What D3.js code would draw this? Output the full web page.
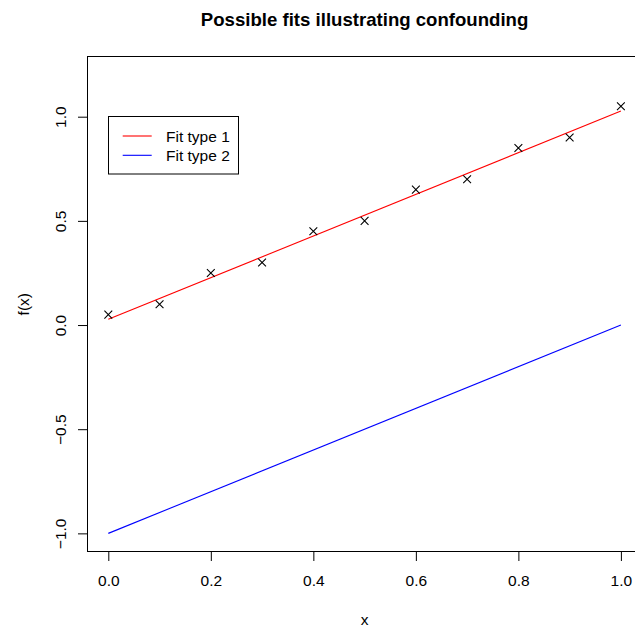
<!DOCTYPE html>
<html>
<head>
<meta charset="utf-8">
<script src="https://cdn.jsdelivr.net/npm/d3@7"></script>
<style>
  html, body { margin: 0; padding: 0; background: #fff; }
  svg { display: block; }
  text { font-family: "Liberation Sans", Arial, Helvetica, sans-serif; }
</style>
</head>
<body>
<script>
// ---- data ----
const title = "Possible fits illustrating confounding";
const xLabel = "x";
const yLabel = "f(x)";
const pointX = [0.0, 0.1, 0.2, 0.3, 0.4, 0.5, 0.6, 0.7, 0.8, 0.9, 1.0];
const pointY = [0.05, 0.10, 0.25, 0.30, 0.45, 0.50, 0.65, 0.70, 0.85, 0.90, 1.05];
const fitX = [0.0, 1.0];
const fit1Y = [0.0273, 1.0273];
const fit2Y = [-1.0, 0.0];
const seriesNames = ["Fit type 1", "Fit type 2"];
const seriesColors = ["#FF0000", "#0000FF"];
const xTicks = [0.0, 0.2, 0.4, 0.6, 0.8, 1.0];
const yTicks = [-1.0, -0.5, 0.0, 0.5, 1.0];
const xLim = [0, 1];
const yLim = [-1, 1.2];

// ---- layout ----
const W = 635, H = 628;
const plotLeft = 87.8, plotTop = 56.7, plotBottom = 551.7;
const xUnit = 512.6;           // px per x unit
const plotRight = plotLeft + xUnit * 1.08;
const fs = 15.5;

const svg = d3.select("body").append("svg").attr("width", W).attr("height", H);

// R-style 4% extended scales
const xr = xLim[1] - xLim[0], yr = yLim[1] - yLim[0];
const x = d3.scaleLinear().domain([xLim[0] - 0.04 * xr, xLim[1] + 0.04 * xr]).range([plotLeft, plotRight]);
const y = d3.scaleLinear().domain([yLim[0] - 0.04 * yr, yLim[1] + 0.04 * yr]).range([plotBottom, plotTop]);

// clip for plot region
svg.append("clipPath").attr("id", "clip").append("rect")
  .attr("x", plotLeft).attr("y", plotTop).attr("width", plotRight - plotLeft).attr("height", plotBottom - plotTop);

// box
svg.append("rect").attr("x", Math.round(plotLeft) - 0.5).attr("y", Math.round(plotTop) - 0.5)
  .attr("width", Math.round(plotRight) - Math.round(plotLeft)).attr("height", Math.round(plotBottom) - Math.round(plotTop))
  .attr("fill", "none").attr("stroke", "#000").attr("stroke-width", 1);

// x axis
const xAxis = d3.axisBottom(x).tickValues(xTicks).tickFormat(d3.format(".1f")).tickSize(9.5).tickPadding(4);
const gx = svg.append("g").attr("transform", `translate(0,${Math.round(plotBottom) - 0.5})`).call(xAxis);
gx.select(".domain").attr("d", `M${x(xTicks[0])},0H${x(xTicks[xTicks.length - 1])}`).attr("stroke", "#000");
gx.selectAll(".tick line").attr("stroke", "#000");
gx.selectAll(".tick text").attr("font-size", fs).attr("fill", "#000").attr("font-family", "Liberation Sans, Arial, sans-serif")
  .attr("dy", null).attr("y", 34.5 - 0.5);

// y axis
const fmtY = d => (d < 0 ? "\u2212" : "") + d3.format(".1f")(Math.abs(d));
const yAxis = d3.axisLeft(y).tickValues(yTicks).tickFormat(fmtY).tickSize(9.5);
const gy = svg.append("g").attr("transform", `translate(${Math.round(plotLeft) - 0.5},0)`).call(yAxis);
gy.select(".domain").attr("d", `M0,${y(yTicks[0])}V${y(yTicks[yTicks.length - 1])}`).attr("stroke", "#000");
gy.selectAll(".tick line").attr("stroke", "#000");
gy.selectAll(".tick text")
  .attr("font-size", fs).attr("fill", "#000").attr("font-family", "Liberation Sans, Arial, sans-serif")
  .attr("x", null).attr("dy", null)
  .attr("text-anchor", "middle")
  .attr("transform", "translate(-21.5,0) rotate(-90)");

// fit lines
const line = d3.line().x(d => x(d[0])).y(d => y(d[1]));
const fits = [fit1Y, fit2Y];
fits.forEach((fy, i) => {
  svg.append("path")
    .datum(fitX.map((fx, j) => [fx, fy[j]]))
    .attr("d", line)
    .attr("fill", "none").attr("stroke", seriesColors[i]).attr("stroke-width", 1.1)
    .attr("clip-path", "url(#clip)");
});

// points (pch = 4, cross)
const r = 3.9;
const pts = svg.append("g").attr("clip-path", "url(#clip)");
pointX.forEach((px, i) => {
  const cx = x(px), cy = y(pointY[i]);
  pts.append("path")
    .attr("d", `M${cx - r},${cy - r}L${cx + r},${cy + r}M${cx - r},${cy + r}L${cx + r},${cy - r}`)
    .attr("stroke", "#000").attr("stroke-width", 1.1).attr("fill", "none");
});

// legend
const lg = svg.append("g");
lg.append("rect").attr("x", 108.5).attr("y", 116.5).attr("width", 130).attr("height", 57.5)
  .attr("fill", "#fff").attr("stroke", "#000").attr("stroke-width", 1);
seriesNames.forEach((name, i) => {
  const ly = 136 + i * 19.3;
  lg.append("line").attr("x1", 122.7).attr("x2", 151.7).attr("y1", ly).attr("y2", ly)
    .attr("stroke", seriesColors[i]).attr("stroke-width", 1.1);
  lg.append("text").attr("x", 166).attr("y", ly + 5.5).attr("font-size", fs).attr("fill", "#000").text(name);
});

// title and axis labels
const cxPlot = (plotLeft + plotRight) / 2;
svg.append("text").attr("x", cxPlot).attr("y", 26).attr("text-anchor", "middle")
  .attr("font-size", 18.6).attr("font-weight", "bold").attr("fill", "#000").text(title);
svg.append("text").attr("x", cxPlot).attr("y", 624.5).attr("text-anchor", "middle")
  .attr("font-size", fs).attr("fill", "#000").text(xLabel);
svg.append("text").attr("transform", `translate(29,${(plotTop + plotBottom) / 2}) rotate(-90)`)
  .attr("text-anchor", "middle").attr("font-size", fs).attr("fill", "#000").text(yLabel);
</script>
</body>
</html>
